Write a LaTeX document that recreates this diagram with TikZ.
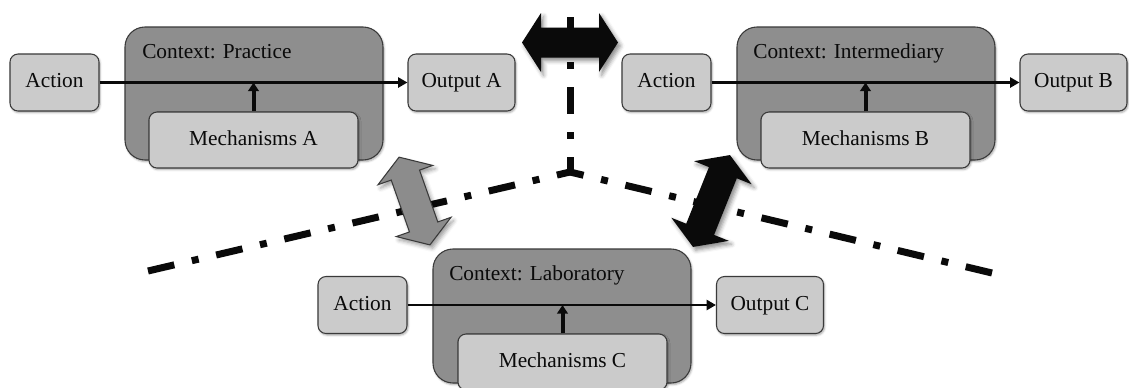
\documentclass[tikz,border=0pt]{standalone}
\usepackage{fontspec}
\setmainfont{Liberation Serif}
\usetikzlibrary{calc,arrows.meta,shadows.blur}

\definecolor{ctxgray}{HTML}{8E8E8E}
\definecolor{boxgray}{HTML}{CBCBCB}
\definecolor{edge}{HTML}{3A3A3A}
\definecolor{ink}{HTML}{0A0A0A}
\definecolor{midgray}{HTML}{8C8C8C}

\tikzset{
  softshadow/.style={blur shadow={shadow xshift=0.8pt, shadow yshift=-1.2pt,
      shadow blur radius=1.5pt, shadow opacity=35}},
  ctx/.style={rectangle, rounded corners=15pt, fill=ctxgray, draw=edge,
      line width=0.8pt, inner sep=0pt, minimum width=193.5pt, softshadow},
  box/.style={rectangle, rounded corners=6pt, fill=boxgray, draw=edge,
      line width=0.8pt, inner sep=0pt, softshadow, text height=0.76em, text depth=0pt,
      minimum height=42.75pt},
  small/.style={minimum width=66.75pt},
  outbox/.style={minimum width=80.25pt},
  mech/.style={minimum width=156.75pt, minimum height=42pt},
  ctxlabel/.style={anchor=base west, inner sep=0pt},
  flow/.style={draw=ink, line width=2.2pt, -{Triangle[length=7pt,width=7.5pt]}},
  lift/.style={draw=ink, line width=3pt, -{Triangle[length=6.5pt,width=8pt]}},
  border/.style={draw=ink, line width=5.25pt,
      dash pattern=on 20.25pt off 13.5pt on 5.25pt off 13.5pt},
  bigarrow/.style={fill=ink, blur shadow={shadow xshift=2pt, shadow yshift=-2.5pt,
      shadow blur radius=3pt, shadow opacity=45}},
  greyarrow/.style={fill=midgray, draw=edge, line width=0.8pt, line join=miter,
      blur shadow={shadow xshift=2pt, shadow yshift=-2.5pt,
      shadow blur radius=3pt, shadow opacity=40}}
}

% Block double arrow: #1 centre coordinate, #2 direction (deg),
% #3 tip-to-tip length, #4 half width of the heads, #5 path style
\newcommand\twoway[5]{%
  \pgfmathsetmacro\tipr{#3/2}%
  \pgfmathsetmacro\baser{#3/2-19}%
  \pgfmathsetmacro\aback{#2+180}%
  \pgfmathsetmacro\aleft{#2+90}%
  \pgfmathsetmacro\aright{#2-90}%
  \path[#5] ($(#1)+(#2:\tipr)$)
    -- ($(#1)+(#2:\baser)+(\aleft:#4)$)
    -- ($(#1)+(#2:\baser)+(\aleft:15)$)
    -- ($(#1)+(\aback:\baser)+(\aleft:15)$)
    -- ($(#1)+(\aback:\baser)+(\aleft:#4)$)
    -- ($(#1)+(\aback:\tipr)$)
    -- ($(#1)+(\aback:\baser)+(\aright:#4)$)
    -- ($(#1)+(\aback:\baser)+(\aright:15)$)
    -- ($(#1)+(#2:\baser)+(\aright:15)$)
    -- ($(#1)+(#2:\baser)+(\aright:#4)$)
    -- cycle;}

\begin{document}
\begin{tikzpicture}[x=0.75pt,y=0.75pt,
  every node/.style={font=\fontsize{16}{19}\selectfont, text=ink}]
\useasboundingbox (0,0) rectangle (1129,-387);
\clip (0,0) rectangle (1129,-387);

% ---- dash-dot borders between the three settings ----
\coordinate (top)  at (570,-17);
\coordinate (hub)  at (570,-172);
\coordinate (lend) at (148,-271);
\coordinate (rend) at (992,-273);
\draw[border] (top) -- (hub);
\draw[border] (lend) -- (hub);
\draw[border] (rend) -- (hub);

% ---- exchange arrows between the settings ----
\coordinate (xtop)   at (570,-42.5);
\coordinate (xleft)  at (414.5,-201);
\coordinate (xright) at (711.5,-201);
\twoway{xtop}{0}{96}{29.5}{bigarrow}
\twoway{xleft}{-70.6}{93}{29}{greyarrow}
\twoway{xright}{68.1}{99}{31}{bigarrow}

% ---- Practice ----
\node[ctx, minimum height=99.75pt] (ctxA) at (254,-93.5) {};
\node[ctxlabel] (labA) at (142,-58) {Context: Practice};
\node[box, small]  (actA) at (54.5,-82.5) {Action};
\node[box, outbox] (outA) at (461.5,-82.5) {Output A};
\node[box, mech]   (mecA) at (253.5,-140) {Mechanisms A};
\draw[flow] (actA) -- (outA);
\draw[lift] (mecA.north) -- (mecA.north |- actA.east);

% ---- Intermediary ----
\node[ctx, minimum height=99.75pt] (ctxB) at (866,-93.5) {};
\node[ctxlabel] (labB) at (753,-58) {Context: Intermediary};
\node[box, small]  (actB) at (666.5,-82.5) {Action};
\node[box, outbox] (outB) at (1073.5,-82.5) {Output B};
\node[box, mech]   (mecB) at (865.5,-140) {Mechanisms B};
\draw[flow] (actB) -- (outB);
\draw[lift] (mecB.north) -- (mecB.north |- actB.east);

% ---- Laboratory ----
\node[ctx, minimum height=100.5pt] (ctxC) at (562,-316) {};
\node[ctxlabel] (labC) at (449,-280) {Context: Laboratory};
\node[box, small]  (actC) at (362.5,-305) {Action};
\node[box, outbox] (outC) at (770,-305) {Output C};
\node[box, mech]   (mecC) at (562.5,-362) {Mechanisms C};
\draw[flow] (actC) -- (outC);
\draw[lift] (mecC.north) -- (mecC.north |- actC.east);
\end{tikzpicture}
\end{document}
